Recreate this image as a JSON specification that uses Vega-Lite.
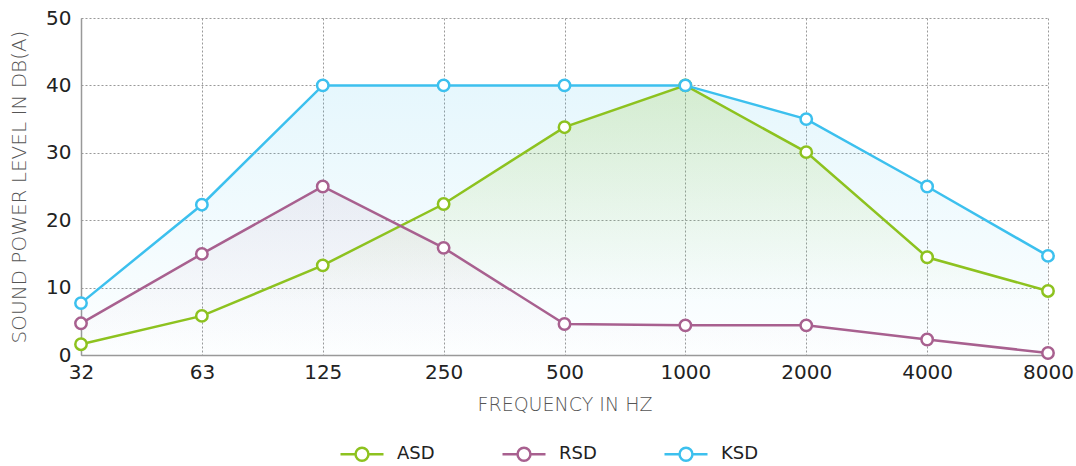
{
  "$schema": "https://vega.github.io/schema/vega-lite/v6.json",
  "width": 967,
  "height": 337,
  "autosize": "none",
  "padding": {"left": 81, "top": 18, "right": 28, "bottom": 111},
  "background": "white",
  "config": {
    "font": "DejaVu Sans",
    "view": {"stroke": null},
    "axis": {"gridColor": "#999", "gridDash": [2, 2], "gridWidth": 1, "domainColor": "#999", "domainWidth": 1.5, "ticks": false, "labelColor": "#222", "titleColor": "#555", "titleFontWeight": 200, "labelFont": "DejaVu Sans", "titleFont": "DejaVu Sans"}
  },
  "data": {
    "values": [
      {"freq": "32", "series": "ASD", "value": 1.6},
      {"freq": "63", "series": "ASD", "value": 5.8},
      {"freq": "125", "series": "ASD", "value": 13.3},
      {"freq": "250", "series": "ASD", "value": 22.4},
      {"freq": "500", "series": "ASD", "value": 33.8},
      {"freq": "1000", "series": "ASD", "value": 40},
      {"freq": "2000", "series": "ASD", "value": 30.1},
      {"freq": "4000", "series": "ASD", "value": 14.5},
      {"freq": "8000", "series": "ASD", "value": 9.5},
      {"freq": "32", "series": "RSD", "value": 4.7},
      {"freq": "63", "series": "RSD", "value": 15},
      {"freq": "125", "series": "RSD", "value": 25},
      {"freq": "250", "series": "RSD", "value": 15.9},
      {"freq": "500", "series": "RSD", "value": 4.6},
      {"freq": "1000", "series": "RSD", "value": 4.4},
      {"freq": "2000", "series": "RSD", "value": 4.4},
      {"freq": "4000", "series": "RSD", "value": 2.3},
      {"freq": "8000", "series": "RSD", "value": 0.3},
      {"freq": "32", "series": "KSD", "value": 7.7},
      {"freq": "63", "series": "KSD", "value": 22.3},
      {"freq": "125", "series": "KSD", "value": 40},
      {"freq": "250", "series": "KSD", "value": 40},
      {"freq": "500", "series": "KSD", "value": 40},
      {"freq": "1000", "series": "KSD", "value": 40},
      {"freq": "2000", "series": "KSD", "value": 35},
      {"freq": "4000", "series": "KSD", "value": 25},
      {"freq": "8000", "series": "KSD", "value": 14.7}
    ]
  },
  "encoding": {
    "x": {
      "field": "freq", "type": "ordinal",
      "sort": ["32", "63", "125", "250", "500", "1000", "2000", "4000", "8000"],
      "scale": {"type": "point", "padding": 0},
      "axis": {"title": "FREQUENCY IN HZ", "labelAngle": 0, "labelFontSize": 20, "labelPadding": 7, "titleFontSize": 19, "titlePadding": 13, "grid": true}
    },
    "y": {
      "field": "value", "type": "quantitative",
      "scale": {"domain": [0, 50], "nice": false},
      "axis": {"title": "SOUND POWER LEVEL IN DB(A)", "values": [0, 10, 20, 30, 40, 50], "labelFontSize": 20, "labelPadding": 10, "titleFontSize": 20, "titlePadding": 16, "grid": true}
    }
  },
  "layer": [
    {
      "transform": [{"filter": "datum.series === 'KSD'"}],
      "mark": {"type": "area", "fill": {"gradient": "linear", "x1": 0, "y1": 0, "x2": 0, "y2": 1, "stops": [{"offset": 0, "color": "rgba(60,192,238,0.13)"}, {"offset": 1, "color": "rgba(60,192,238,0.01)"}]}}
    },
    {
      "transform": [{"filter": "datum.series === 'ASD'"}],
      "mark": {"type": "area", "fill": {"gradient": "linear", "x1": 0, "y1": 0, "x2": 0, "y2": 1, "stops": [{"offset": 0, "color": "rgba(141,194,31,0.2)"}, {"offset": 0.8, "color": "rgba(141,194,31,0.0)"}]}}
    },
    {
      "transform": [{"filter": "datum.series === 'RSD'"}],
      "mark": {"type": "area", "fill": {"gradient": "linear", "x1": 0, "y1": 0, "x2": 0, "y2": 1, "stops": [{"offset": 0, "color": "rgba(168,96,143,0.09)"}, {"offset": 1, "color": "rgba(168,96,143,0.0)"}]}}
    },
    {
      "mark": {"type": "line", "strokeWidth": 2.5},
      "encoding": {
        "color": {
          "field": "series", "type": "nominal",
          "scale": {"domain": ["ASD", "RSD", "KSD"], "range": ["#8dc21f", "#a8608f", "#3cc0ee"]},
          "legend": {"title": null, "orient": "none", "legendX": 258, "legendY": 413, "direction": "horizontal", "labelFontSize": 18, "labelColor": "#222", "labelFont": "DejaVu Sans", "labelOffset": 12, "columnPadding": 62, "symbolType": "M-1,0H-0.3M0.3,0H1M-0.3,0A0.3,0.3 0 1,0 0.3,0A0.3,0.3 0 1,0 -0.3,0", "symbolSize": 1849, "symbolStrokeWidth": 2.5, "encode": {"symbols": {"update": {"fill": {"value": "white"}, "fillOpacity": {"value": 1}, "strokeWidth": {"value": 2.5}}}}}
        }
      }
    },
    {
      "mark": {"type": "point", "filled": false, "fill": "white", "fillOpacity": 1, "size": 130, "strokeWidth": 2.5, "opacity": 1},
      "encoding": {
        "color": {
          "field": "series", "type": "nominal",
          "scale": {"domain": ["ASD", "RSD", "KSD"], "range": ["#8dc21f", "#a8608f", "#3cc0ee"]},
          "legend": {"title": null, "orient": "none", "legendX": 258, "legendY": 413, "direction": "horizontal", "labelFontSize": 18, "labelColor": "#222", "labelFont": "DejaVu Sans", "labelOffset": 12, "columnPadding": 62, "symbolType": "M-1,0H-0.3M0.3,0H1M-0.3,0A0.3,0.3 0 1,0 0.3,0A0.3,0.3 0 1,0 -0.3,0", "symbolSize": 1849, "symbolStrokeWidth": 2.5, "encode": {"symbols": {"update": {"fill": {"value": "white"}, "fillOpacity": {"value": 1}, "strokeWidth": {"value": 2.5}}}}}
        }
      }
    }
  ]
}
